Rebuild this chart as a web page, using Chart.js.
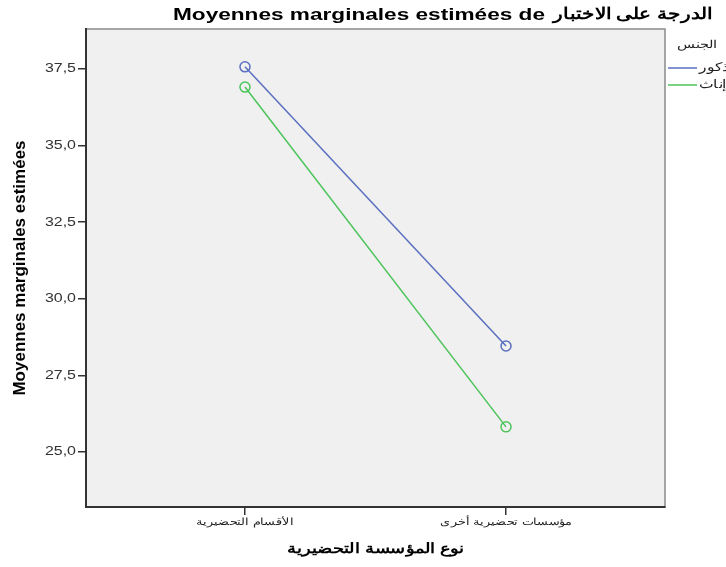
<!DOCTYPE html>
<html>
<head>
<meta charset="utf-8">
<script src="https://cdn.jsdelivr.net/npm/chart.js@4"></script>
<style>
html,body{margin:0;padding:0;background:#fff;}
#wrap{width:726px;height:567px;}
</style>
</head>
<body>
<div id="wrap"><canvas id="c" width="726" height="567"></canvas></div>
<script>
const titleLatin = 'Moyennes marginales estimées de';
const titleArabic = 'الدرجة على الاختبار';
const xAxisTitle = 'نوع المؤسسة التحضيرية';
const yAxisTitle = 'Moyennes marginales estimées';
const legendTitle = 'الجنس';
const categories = ['الأقسام التحضيرية', 'مؤسسات تحضيرية أخرى'];
const seriesNames = ['ذكور', 'إناث'];
const maleValues = [37.57, 28.46];
const femaleValues = [36.91, 25.82];
const yTickValues = [25, 27.5, 30, 32.5, 35, 37.5];
const seriesColors = ['#5a6fc0', '#4cc45a'];

const allSeries = [maleValues, femaleValues];
const FONT = '"Liberation Sans", Arial, sans-serif';
const SX = 1.33; // horizontal text stretch seen in the reference

function stretchedText(ctx, text, x, y, align, font, color, sx) {
  ctx.save();
  ctx.font = font;
  ctx.fillStyle = color;
  ctx.textBaseline = 'middle';
  ctx.textAlign = align;
  ctx.translate(x, y);
  ctx.scale(sx, 1);
  ctx.fillText(text, 0, 0);
  ctx.restore();
}

const bgPlugin = {
  id: 'bg',
  beforeDraw(chart) {
    const {ctx, chartArea: a} = chart;
    ctx.save();
    ctx.fillStyle = '#ffffff';
    ctx.fillRect(0, 0, chart.width, chart.height);
    ctx.fillStyle = '#f0f0f0';
    ctx.fillRect(a.left, a.top, a.right - a.left, a.bottom - a.top);
    ctx.strokeStyle = '#8a8a8a';
    ctx.lineWidth = 1.5;
    ctx.strokeRect(a.left, a.top, a.right - a.left, a.bottom - a.top);
    ctx.restore();
  },
  afterDraw(chart) {
    const {ctx, scales: {x, y}, chartArea: a} = chart;
    // chart title
    stretchedText(ctx, titleLatin, 173, 15, 'left', 'bold 17px ' + FONT, '#000', SX);
    stretchedText(ctx, titleArabic, 712, 15, 'right', 'bold 16px ' + FONT, '#000', 1.25);
    // y tick labels
    y.ticks.forEach(t => {
      stretchedText(ctx, t.label, 76, y.getPixelForValue(t.value), 'right', '12px ' + FONT, '#333', SX);
    });
    // x tick labels
    x.ticks.forEach(t => {
      stretchedText(ctx, t.label, x.getPixelForValue(t.value), 522, 'center', '10px ' + FONT, '#222', 1.28);
    });
    // x axis title
    stretchedText(ctx, xAxisTitle, (a.left + a.right) / 2, 549, 'center', 'bold 14px ' + FONT, '#000', 1.28);
    // legend
    stretchedText(ctx, legendTitle, 677, 45, 'left', '11px ' + FONT, '#222', SX);
    chart.data.datasets.forEach((ds, i) => {
      const yy = 68 + i * 17;
      ctx.save();
      ctx.strokeStyle = ds.borderColor;
      ctx.lineWidth = 1.5;
      ctx.beginPath();
      ctx.moveTo(668, yy);
      ctx.lineTo(697, yy);
      ctx.stroke();
      ctx.restore();
      stretchedText(ctx, ds.label, 699, yy, 'left', '12px ' + FONT, '#222', 1.3);
    });
  }
};

new Chart(document.getElementById('c'), {
  type: 'line',
  data: {
    datasets: allSeries.map((vals, i) => ({
      label: seriesNames[i],
      data: vals.map((v, j) => ({x: j + 1, y: v})),
      borderColor: seriesColors[i],
      backgroundColor: seriesColors[i],
      borderWidth: 1.5,
      pointRadius: 5,
      pointHoverRadius: 5,
      pointBorderWidth: 1.5,
      pointBackgroundColor: 'rgba(0,0,0,0)',
      pointBorderColor: seriesColors[i],
      tension: 0
    }))
  },
  options: {
    responsive: false,
    animation: false,
    layout: {padding: {left: 0, right: 61, top: 29, bottom: 0}},
    plugins: {legend: {display: false}, title: {display: false}, tooltip: {enabled: false}},
    scales: {
      x: {
        type: 'linear',
        min: 0.391,
        max: 2.609,
        afterBuildTicks(scale) { scale.ticks = categories.map((c, i) => ({value: i + 1})); },
        afterFit(scale) { scale.height = 60; },
        ticks: {
          display: false,
          callback: (v) => categories[Math.round(v) - 1] || '',
          autoSkip: false
        },
        grid: {display: true, drawOnChartArea: false, drawTicks: true, tickLength: 8, color: '#333', lineWidth: 1.5},
        border: {display: true, color: '#333', width: 2}
      },
      y: {
        type: 'linear',
        min: 23.205,
        max: 38.805,
        afterBuildTicks(scale) { scale.ticks = yTickValues.map(v => ({value: v})); },
        afterFit(scale) { scale.width = 86; },
        ticks: {
          display: false,
          callback: (v) => v.toFixed(1).replace('.', ',')
        },
        grid: {display: true, drawOnChartArea: false, drawTicks: true, tickLength: 8, color: '#333', lineWidth: 1.5},
        border: {display: true, color: '#333', width: 2},
        title: {display: true, text: yAxisTitle, color: '#000',
          font: {family: FONT, size: 17, weight: 'bold'},
          padding: {top: 10, bottom: 0}}
      }
    }
  },
  plugins: [bgPlugin]
});
</script>
</body>
</html>
